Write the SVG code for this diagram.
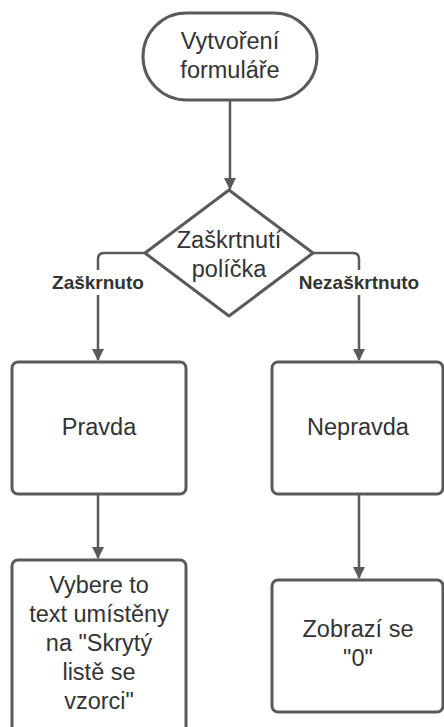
<svg xmlns="http://www.w3.org/2000/svg" width="444" height="727" viewBox="0 0 444 727">
<defs>
<style>
.shape{fill:#fff;stroke:#5a5a5a;stroke-width:3}
.conn{fill:none;stroke:#5a5a5a;stroke-width:2.5}
.t{font-family:"Liberation Sans",Arial,sans-serif;font-size:23.5px;fill:#333;text-anchor:middle}
.lbl{font-family:"Liberation Sans",Arial,sans-serif;font-size:19px;font-weight:bold;fill:#333;text-anchor:middle}
</style>
<marker id="arr" viewBox="0 0 12 12" refX="11" refY="6" markerWidth="12" markerHeight="12" markerUnits="userSpaceOnUse" orient="auto">
<path d="M0,0 L12,6 L0,12 Z" fill="#5a5a5a"/>
</marker>
</defs>
<rect width="444" height="727" fill="#fff"/>
<g id="connectors">
<path class="conn" d="M230,101 V189" marker-end="url(#arr)"/>
<path class="conn" d="M145,253 H104 Q98,253 98,259 V270"/>
<path class="conn" d="M98,295 V360" marker-end="url(#arr)"/>
<path class="conn" d="M313,253 H353 Q359,253 359,259 V270"/>
<path class="conn" d="M359,295 V360" marker-end="url(#arr)"/>
<path class="conn" d="M98,495 V558" marker-end="url(#arr)"/>
<path class="conn" d="M359,495 V578" marker-end="url(#arr)"/>
<text class="lbl" x="98" y="289">Zaškrnuto</text>
<text class="lbl" x="359" y="289">Nezaškrtnuto</text>
</g>
<g id="start">
<rect class="shape" x="143" y="13" width="174" height="87" rx="43.5"/>
<text class="t" x="230" y="49">Vytvoření</text>
<text class="t" x="230" y="78">formuláře</text>
</g>
<g id="decision">
<path class="shape" d="M229,190 L313,253 L229,316 L145,253 Z" stroke-linejoin="round"/>
<text class="t" x="229" y="248">Zaškrtnutí</text>
<text class="t" x="229" y="277">políčka</text>
</g>
<g id="pravda">
<rect class="shape" x="12" y="362" width="174" height="132" rx="6"/>
<text class="t" x="99" y="435">Pravda</text>
</g>
<g id="nepravda">
<rect class="shape" x="272" y="362" width="171" height="132" rx="6"/>
<text class="t" x="358" y="435">Nepravda</text>
</g>
<g id="vybere">
<rect class="shape" x="12" y="560" width="174" height="180" rx="6"/>
<text class="t" x="99" y="593">Vybere to</text>
<text class="t" x="99" y="622">text umístěny</text>
<text class="t" x="99" y="651">na "Skrytý</text>
<text class="t" x="99" y="680">listě se</text>
<text class="t" x="99" y="709">vzorci"</text>
</g>
<g id="zobrazi">
<rect class="shape" x="272" y="580" width="171" height="132" rx="6"/>
<text class="t" x="358" y="637">Zobrazí se</text>
<text class="t" x="358" y="666">"0"</text>
</g>
</svg>
